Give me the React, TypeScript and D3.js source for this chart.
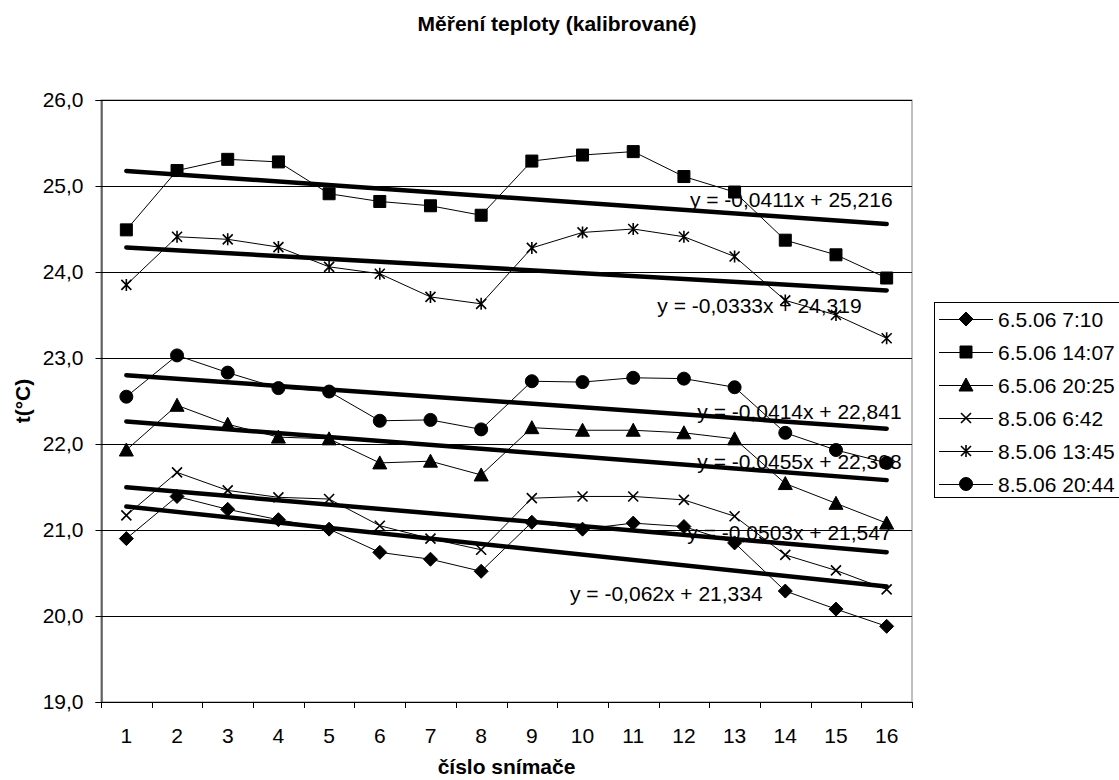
import React, { useRef, useEffect } from 'react';
import * as d3 from 'd3';

// sensor numbers on the x axis
const categories = ['1', '2', '3', '4', '5', '6', '7', '8', '9', '10', '11', '12', '13', '14', '15', '16'];

const seriesNames = ['6.5.06 7:10', '6.5.06 14:07', '6.5.06 20:25', '8.5.06 6:42', '8.5.06 13:45', '8.5.06 20:44'];
const seriesMarkers = ['diamond', 'square', 'triangle', 'x', 'asterisk', 'circle'];

const s0710 = [20.90, 21.39, 21.24, 21.12, 21.01, 20.74, 20.66, 20.52, 21.09, 21.01, 21.08, 21.04, 20.85, 20.29, 20.08, 19.88];
const s1407 = [24.49, 25.18, 25.31, 25.28, 24.91, 24.82, 24.77, 24.66, 25.29, 25.36, 25.40, 25.11, 24.93, 24.37, 24.20, 23.93];
const s2025 = [21.93, 22.45, 22.23, 22.08, 22.06, 21.78, 21.80, 21.64, 22.19, 22.16, 22.16, 22.13, 22.06, 21.54, 21.31, 21.08];
const s0642 = [21.17, 21.67, 21.46, 21.38, 21.36, 21.05, 20.90, 20.77, 21.37, 21.39, 21.39, 21.35, 21.16, 20.71, 20.53, 20.31];
const s1345 = [23.85, 24.41, 24.38, 24.29, 24.06, 23.98, 23.71, 23.63, 24.28, 24.46, 24.50, 24.41, 24.18, 23.67, 23.50, 23.23];
const s2044 = [22.55, 23.03, 22.83, 22.65, 22.61, 22.27, 22.28, 22.17, 22.73, 22.72, 22.77, 22.76, 22.66, 22.13, 21.93, 21.78];
const seriesValues = [s0710, s1407, s2025, s0642, s1345, s2044];

// linear trendlines as printed on the chart
const trendSlopes = [-0.062, -0.0411, -0.0455, -0.0503, -0.0333, -0.0414];
const trendIntercepts = [21.334, 25.216, 22.308, 21.547, 24.319, 22.841];
const trendLabels = [
  'y = -0,062x + 21,334',
  'y = -0,0411x + 25,216',
  'y = -0,0455x + 22,308',
  'y = -0,0503x + 21,547',
  'y = -0,0333x + 24,319',
  'y = -0,0414x + 22,841',
];
// label placement: pixel offset from the end of each trendline
const labelOffsets = [
  { dx: -124, dy: 7 },
  { dx: 6, dy: -24 },
  { dx: 15, dy: -18 },
  { dx: 5, dy: -20 },
  { dx: -25, dy: 15 },
  { dx: 15, dy: -17 },
];

const yTicks = [19, 20, 21, 22, 23, 24, 25, 26];

const FONT = '"Liberation Sans", Arial, sans-serif';

function markerPath(type: string): string {
  switch (type) {
    case 'diamond': return 'M0,-7L7,0L0,7L-7,0Z';
    case 'square': return 'M-6,-6H6V6H-6Z';
    case 'triangle': return 'M0,-7L7,6L-7,6Z';
    case 'circle': return 'M6.5,0A6.5,6.5 0 1 1 -6.5,0A6.5,6.5 0 1 1 6.5,0Z';
    case 'x': return 'M-5,-5L5,5M-5,5L5,-5';
    case 'asterisk': return 'M-5,-5L5,5M-5,5L5,-5M0,-6L0,6';
  }
  return '';
}

function drawMarker(g: any, type: string, x: number, y: number) {
  const filled = type !== 'x' && type !== 'asterisk';
  g.append('path')
    .attr('d', markerPath(type))
    .attr('transform', `translate(${x},${y})`)
    .attr('fill', filled ? '#000' : 'none')
    .attr('stroke', '#000')
    .attr('stroke-width', filled ? 1 : 1.6);
}

export default function App() {
  const svgRef = useRef<SVGSVGElement>(null);

  useEffect(() => {
    if (!svgRef.current) return;
    const width = 1119;
    const height = 780;
    const plot = { left: 101, right: 912, top: 100, bottom: 702 };

    const svg = d3.select(svgRef.current);
    svg.selectAll('*').remove();
    svg.append('rect').attr('width', width).attr('height', height).attr('fill', '#fff');

    const x = d3.scaleBand<string>().domain(categories).range([plot.left, plot.right]);
    const xc = (i: number) => x(categories[i])! + x.bandwidth() / 2;
    const y = d3.scaleLinear().domain([19, 26]).range([plot.bottom, plot.top]);

    // title
    svg.append('text')
      .attr('x', 557).attr('y', 31)
      .attr('text-anchor', 'middle')
      .style('font-family', FONT).style('font-size', '21px').style('font-weight', 'bold')
      .text('Měření teploty (kalibrované)');

    // plot border (gray)
    svg.append('rect')
      .attr('x', plot.left).attr('y', plot.top)
      .attr('width', plot.right - plot.left).attr('height', plot.bottom - plot.top)
      .attr('fill', 'none').attr('stroke', '#808080');

    // gridlines
    svg.append('g').selectAll('line')
      .data(yTicks.filter(d => d > 19))
      .join('line')
      .attr('x1', plot.left).attr('x2', plot.right)
      .attr('y1', d => Math.round(y(d)) + 0.5).attr('y2', d => Math.round(y(d)) + 0.5)
      .attr('stroke', '#000');

    // y axis
    const yAxis = svg.append('g')
      .attr('transform', `translate(${plot.left + 0.5},0)`)
      .call(d3.axisLeft(y).tickValues(yTicks).tickSize(6).tickPadding(12)
        .tickFormat(d => d3.format('.1f')(d as number).replace('.', ',')));
    yAxis.select('.domain').attr('stroke', '#000');
    yAxis.selectAll('text')
      .style('font-family', FONT).style('font-size', '21px').attr('fill', '#000');

    // x axis (ticks between categories)
    const xAxisG = svg.append('g');
    xAxisG.append('line')
      .attr('x1', plot.left).attr('x2', plot.right)
      .attr('y1', plot.bottom + 0.5).attr('y2', plot.bottom + 0.5)
      .attr('stroke', '#000');
    xAxisG.selectAll('line.tick')
      .data(d3.range(categories.length + 1))
      .join('line')
      .attr('class', 'tick')
      .attr('x1', i => Math.round(plot.left + i * x.step()) + 0.5)
      .attr('x2', i => Math.round(plot.left + i * x.step()) + 0.5)
      .attr('y1', plot.bottom).attr('y2', plot.bottom + 6)
      .attr('stroke', '#000');
    xAxisG.selectAll('text')
      .data(categories)
      .join('text')
      .attr('x', (_, i) => xc(i))
      .attr('y', 743)
      .attr('text-anchor', 'middle')
      .style('font-family', FONT).style('font-size', '21px')
      .text(d => d);

    // axis titles
    svg.append('text')
      .attr('x', (plot.left + plot.right) / 2).attr('y', 774)
      .attr('text-anchor', 'middle')
      .style('font-family', FONT).style('font-size', '21px').style('font-weight', 'bold')
      .text('číslo snímače');
    svg.append('text')
      .attr('transform', 'translate(30,401) rotate(-90)')
      .attr('text-anchor', 'middle')
      .style('font-family', FONT).style('font-size', '21px').style('font-weight', 'bold')
      .text('t(°C)');

    // trendline equations (drawn beneath the lines)
    const n = categories.length;
    trendLabels.forEach((label, k) => {
      const endVal = trendIntercepts[k] + trendSlopes[k] * n;
      svg.append('text')
        .attr('x', xc(n - 1) + labelOffsets[k].dx)
        .attr('y', y(endVal) + labelOffsets[k].dy)
        .attr('dy', '0.35em')
        .attr('text-anchor', 'end')
        .style('font-family', FONT).style('font-size', '21px')
        .text(label);
    });

    // trendlines
    trendSlopes.forEach((m, k) => {
      const b = trendIntercepts[k];
      svg.append('line')
        .attr('x1', xc(0)).attr('y1', y(b + m * 1))
        .attr('x2', xc(n - 1)).attr('y2', y(b + m * n))
        .attr('stroke', '#000').attr('stroke-width', 4.5)
        .attr('stroke-linecap', 'round');
    });

    // data series
    const line = d3.line<number>().x((_, i) => xc(i)).y(d => y(d));
    seriesValues.forEach((vals, k) => {
      const g = svg.append('g');
      g.append('path')
        .attr('d', line(vals))
        .attr('fill', 'none').attr('stroke', '#000').attr('stroke-width', 1);
      vals.forEach((v, i) => drawMarker(g, seriesMarkers[k], xc(i), y(v)));
    });

    // legend
    const lg = svg.append('g');
    lg.append('rect')
      .attr('x', 934.5).attr('y', 302.5).attr('width', 200).attr('height', 195)
      .attr('fill', '#fff').attr('stroke', '#000');
    seriesNames.forEach((name, k) => {
      const ly = 319 + k * 33;
      lg.append('line')
        .attr('x1', 939).attr('x2', 993).attr('y1', ly + 0.5).attr('y2', ly + 0.5)
        .attr('stroke', '#000').attr('stroke-width', 1);
      drawMarker(lg, seriesMarkers[k], 966, ly);
      lg.append('text')
        .attr('x', 998).attr('y', ly).attr('dy', '0.36em')
        .style('font-family', FONT).style('font-size', '21px')
        .text(name);
    });
  }, []);

  return (
    <div style={{ position: 'absolute', left: 0, top: 0 }}>
      <svg ref={svgRef} width={1119} height={780} style={{ display: 'block' }} />
    </div>
  );
}
